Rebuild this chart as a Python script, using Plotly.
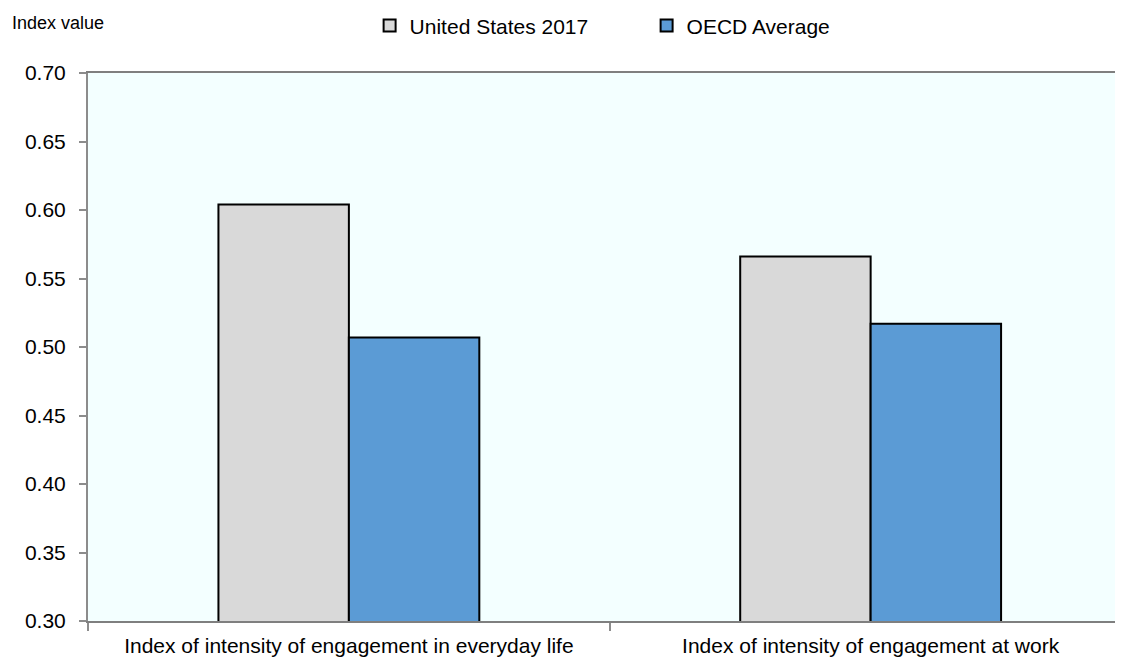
import plotly.graph_objects as go

categories = ["Index of intensity of engagement in everyday life",
              "Index of intensity of engagement at work"]
us_2017 = [0.604, 0.566]
oecd_avg = [0.507, 0.517]
y_ticks = [0.30, 0.35, 0.40, 0.45, 0.50, 0.55, 0.60, 0.65, 0.70]

FONT = "Liberation Sans Narrow, Arial Narrow, Liberation Sans, Arial, sans-serif"
X_RANGE = [-0.5, 1.499]

fig = go.Figure()
fig.add_trace(go.Bar(x=categories, y=us_2017, name="United States 2017",
                     marker=dict(color="#D9D9D9", line=dict(color="#000000", width=2))))
fig.add_trace(go.Bar(x=categories, y=oecd_avg, name="OECD Average",
                     marker=dict(color="#5B9BD5", line=dict(color="#000000", width=2))))

fig.update_layout(
    width=1123, height=653,
    margin=dict(l=80, r=0, t=65, b=40, autoexpand=False),
    paper_bgcolor="white",
    plot_bgcolor="#F3FFFF",
    barmode="group", bargap=0.5, bargroupgap=0,
    font=dict(family=FONT, size=21, color="#000000"),
    showlegend=True,
    legend=dict(orientation="h", x=0.270, xanchor="left", y=1.086, yanchor="middle",
                font=dict(family=FONT, size=21, color="#000000"),
                entrywidth=232, entrywidthmode="pixels", bgcolor="rgba(0,0,0,0)",
                itemclick=False),
    xaxis=dict(type="category", range=X_RANGE, tickson="boundaries", ticks="outside",
               ticklen=8, tickcolor="#8c8c8c", tickwidth=1.5, automargin=False,
               showline=True, linecolor="#7f7f7f", linewidth=2, mirror=True,
               showgrid=False, tickfont=dict(family=FONT, size=21, color="#000000"),
               ticklabelstandoff=5),
    xaxis2=dict(overlaying="x", anchor="y", range=X_RANGE, tickmode="array",
                tickvals=[0, 1], showticklabels=False, ticks="outside", ticklen=8,
                tickcolor="#8c8c8c", tickwidth=1.5, showgrid=False, showline=False,
                zeroline=False, side="bottom", automargin=False),
    yaxis=dict(range=[0.30, 0.70], tickmode="array", tickvals=y_ticks,
               tickformat=".2f", ticks="outside", ticklen=7, tickcolor="#8c8c8c",
               tickwidth=1.5, showline=True, linecolor="#8c8c8c", linewidth=2,
               mirror=False, showgrid=False, zeroline=False, automargin=False,
               tickfont=dict(family=FONT, size=21, color="#000000"),
               ticklabelstandoff=9),
    annotations=[dict(text="Index value", xref="paper", yref="paper",
                      x=-0.0748, y=1.092, xanchor="left", yanchor="middle",
                      showarrow=False, font=dict(family=FONT, size=18, color="#000000"))],
)

fig.write_html("out.html")
